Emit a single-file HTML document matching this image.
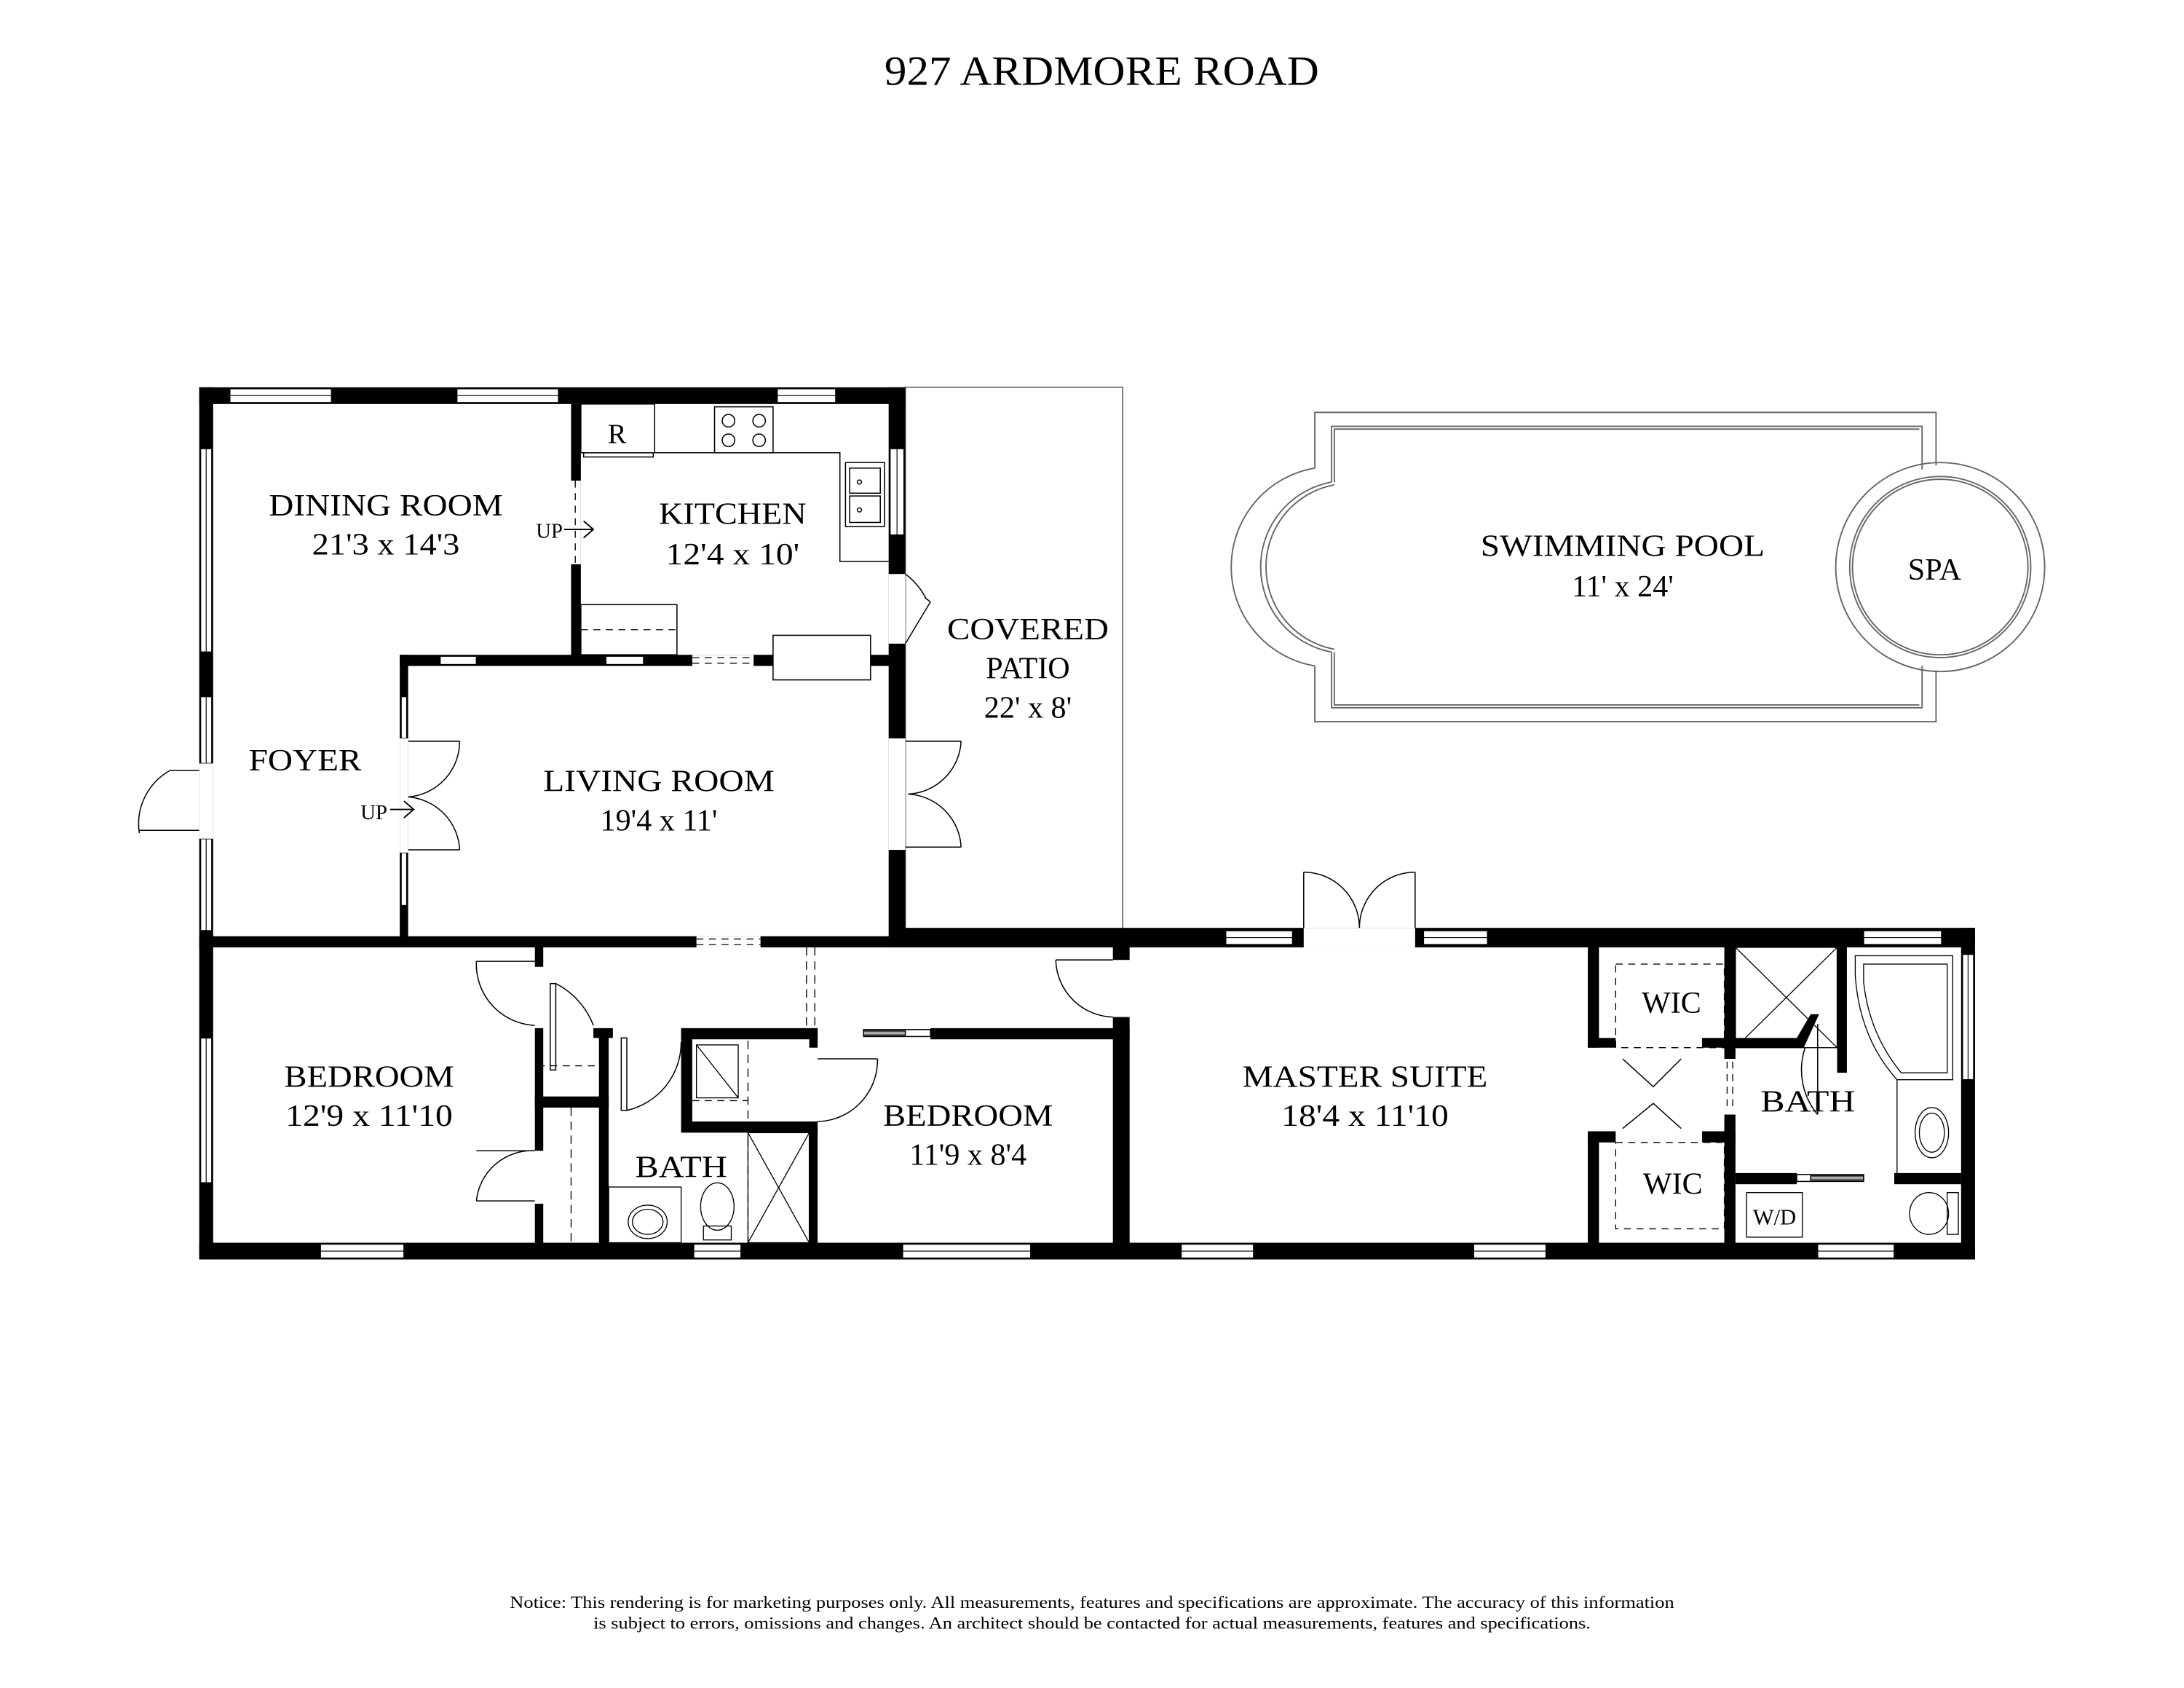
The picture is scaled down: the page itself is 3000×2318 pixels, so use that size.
<!DOCTYPE html>
<html><head><meta charset="utf-8"><style>
html,body{margin:0;padding:0;background:#fff;}
svg{display:block;}
text{font-family:"Liberation Serif",serif;fill:#000;}
</style></head><body>
<svg width="3000" height="2318" viewBox="0 0 1568 1211.6" xmlns="http://www.w3.org/2000/svg">
<rect x="0" y="0" width="1568" height="1212" fill="#fff"/>
<text x="791" y="61" font-size="30" text-anchor="middle" textLength="312" lengthAdjust="spacingAndGlyphs">927 ARDMORE ROAD</text>

<rect x="650" y="278" width="156" height="390" fill="none" stroke="#777" stroke-width="1"/>

<g fill="#000">
<rect x="143" y="278" width="507" height="12"/>
<rect x="143" y="278" width="10" height="626"/>
<rect x="638" y="278" width="12" height="402"/>
<rect x="410" y="290" width="7" height="188"/>
<rect x="287" y="470" width="357" height="8"/>
<rect x="287" y="470" width="6" height="206"/>
<rect x="143" y="672" width="663" height="8"/>
<rect x="643" y="666" width="775" height="14"/>
<rect x="143" y="892" width="1275" height="12"/>
<rect x="1408" y="666" width="10" height="238"/>
<rect x="384" y="680" width="6" height="14"/>
<rect x="384" y="738" width="6" height="88"/>
<rect x="384" y="864" width="6" height="30"/>
<rect x="384" y="787" width="53" height="8"/>
<rect x="430" y="738" width="7" height="156"/>
<rect x="426" y="738" width="14" height="7"/>
<rect x="489" y="738" width="98" height="8"/>
<rect x="489" y="738" width="8" height="74"/>
<rect x="489" y="805" width="98" height="8"/>
<rect x="581" y="738" width="6" height="14"/>
<rect x="581" y="805" width="6" height="89"/>
<rect x="668" y="738" width="143" height="8"/>
<rect x="799" y="680" width="12" height="9"/>
<rect x="799" y="730" width="12" height="164"/>
<rect x="1140" y="680" width="8" height="72"/>
<rect x="1140" y="745" width="20" height="7"/>
<rect x="1140" y="812" width="8" height="82"/>
<rect x="1140" y="812" width="20" height="8"/>
<rect x="1238" y="680" width="8" height="80"/>
<rect x="1238" y="800" width="8" height="94"/>
<rect x="1222" y="745" width="24" height="7"/>
<rect x="1222" y="812" width="24" height="8"/>
<polygon points="1246,745 1290,745 1300,728 1306,728 1295,752 1246,752"/>
<rect x="1319" y="680" width="7" height="90"/>
<rect x="1246" y="842" width="44" height="8"/>
<rect x="1360" y="842" width="48" height="8"/>
</g>

<g fill="#fff" stroke="#000" stroke-width="0.8">
<rect x="165" y="279" width="73" height="10"/>
<rect x="328" y="279" width="73" height="10"/>
<rect x="558" y="279" width="42" height="10"/>
<rect x="144" y="322" width="8" height="146"/>
<rect x="144" y="500" width="8" height="48"/>
<rect x="144" y="602" width="8" height="66"/>
<rect x="144" y="745" width="8" height="104"/>
<rect x="639" y="322" width="10" height="62"/>
<rect x="316" y="471" width="26" height="6"/>
<rect x="435" y="471" width="27" height="6"/>
<rect x="288" y="500" width="4" height="30"/>
<rect x="288" y="612" width="4" height="38"/>
<rect x="230" y="893" width="60" height="10"/>
<rect x="498" y="893" width="34" height="10"/>
<rect x="648" y="893" width="92" height="10"/>
<rect x="848" y="893" width="52" height="10"/>
<rect x="1058" y="893" width="52" height="10"/>
<rect x="1305" y="893" width="55" height="10"/>
<rect x="880" y="668" width="48" height="10"/>
<rect x="1022" y="668" width="46" height="10"/>
<rect x="1338" y="668" width="56" height="10"/>
<rect x="1409" y="685" width="8" height="90"/>
</g>
<g stroke="#000" stroke-width="0.6" fill="none">
<line x1="165" y1="284" x2="238" y2="284"/><line x1="328" y1="284" x2="401" y2="284"/><line x1="558" y1="284" x2="600" y2="284"/>
<line x1="148" y1="322" x2="148" y2="468"/><line x1="148" y1="500" x2="148" y2="548"/><line x1="148" y1="602" x2="148" y2="668"/><line x1="148" y1="745" x2="148" y2="849"/>
<line x1="644" y1="322" x2="644" y2="384"/>
<line x1="230" y1="898" x2="290" y2="898"/><line x1="648" y1="898" x2="740" y2="898"/><line x1="848" y1="898" x2="900" y2="898"/><line x1="1058" y1="898" x2="1110" y2="898"/><line x1="1305" y1="898" x2="1360" y2="898"/><line x1="498" y1="898" x2="532" y2="898"/>
<line x1="880" y1="673" x2="928" y2="673"/><line x1="1022" y1="673" x2="1068" y2="673"/><line x1="1338" y1="673" x2="1394" y2="673"/><line x1="1413" y1="685" x2="1413" y2="775"/>
</g>

<g fill="#fff">
<rect x="143" y="548" width="10" height="54"/>
<rect x="410" y="345" width="7" height="60"/>
<rect x="497" y="470" width="44" height="8"/>
<rect x="638" y="412" width="12" height="50"/>
<rect x="638" y="530" width="12" height="80"/>
<rect x="287" y="530" width="6" height="82"/>
<rect x="500" y="672" width="46" height="8"/>
<rect x="936" y="666" width="80" height="14"/>
<rect x="620" y="738" width="48" height="8"/>
</g>
<g stroke="#000" stroke-width="0.7" fill="none">
<line x1="413" y1="345" x2="413" y2="405" stroke-dasharray="5,4"/>
<line x1="497" y1="472" x2="541" y2="472" stroke-dasharray="5,4"/><line x1="497" y1="476" x2="541" y2="476" stroke-dasharray="5,4"/>
<line x1="500" y1="674" x2="546" y2="674" stroke-dasharray="5,4"/><line x1="500" y1="678" x2="546" y2="678" stroke-dasharray="5,4"/>
<line x1="579" y1="680" x2="579" y2="736" stroke-dasharray="6,4"/><line x1="585" y1="680" x2="585" y2="736" stroke-dasharray="6,4"/>
<line x1="1240" y1="762" x2="1240" y2="798" stroke-dasharray="5,4"/><line x1="1244" y1="762" x2="1244" y2="798" stroke-dasharray="5,4"/>
<line x1="386" y1="765" x2="430" y2="765" stroke-dasharray="5,4"/>
<line x1="410" y1="795" x2="410" y2="892" stroke-dasharray="6,4"/>
<line x1="417" y1="452" x2="486" y2="452" stroke-dasharray="5,4"/>
<line x1="537" y1="747" x2="537" y2="892" stroke-dasharray="6,4"/>
<line x1="497" y1="790" x2="537" y2="790" stroke-dasharray="5,4"/>
<rect x="1160" y="692" width="78" height="60" stroke-dasharray="5,4"/>
<rect x="1160" y="820" width="78" height="62" stroke-dasharray="5,4"/>
</g>

<g stroke="#000" stroke-width="0.8" fill="none">
<rect x="417" y="290" width="53" height="35"/>
<polyline points="470,325 603,325 603,403 638,403"/>
<rect x="513" y="292" width="42" height="33"/>
<circle cx="523" cy="302" r="4.5"/><circle cx="545" cy="302" r="4.5"/><circle cx="523" cy="316" r="4.5"/><circle cx="545" cy="316" r="4.5"/>
<rect x="607" y="332" width="28" height="46"/>
<rect x="610" y="336" width="22" height="18"/><rect x="610" y="356" width="22" height="19"/>
<circle cx="617" cy="346" r="1.5"/><circle cx="617" cy="366" r="1.5"/>
<rect x="417" y="434" width="69" height="36"/>
<rect x="555" y="456" width="70" height="32" fill="#fff"/>
<rect x="419" y="325" width="50" height="3"/>
</g>
<text x="443" y="318" font-size="20" text-anchor="middle">R</text>

<g stroke="#000" stroke-width="0.8" fill="none">
<line x1="143" y1="553" x2="122" y2="553"/><path d="M122,553 A44,44 0 0 0 100,598"/><line x1="100" y1="596" x2="143" y2="596"/>
<line x1="650" y1="462" x2="668" y2="432"/><line x1="668" y1="432" x2="664" y2="429"/><path d="M650,412 A50,50 0 0 1 665,430"/>
<line x1="650" y1="532" x2="690" y2="532"/><path d="M690,532 A40,40 0 0 1 652,570"/>
<line x1="650" y1="608" x2="690" y2="608"/><path d="M690,608 A40,40 0 0 0 652,570"/>
<line x1="293" y1="532" x2="330" y2="532"/><path d="M330,532 A40,40 0 0 1 293,572"/>
<line x1="293" y1="610" x2="330" y2="610"/><path d="M330,610 A40,40 0 0 0 293,572"/>
<line x1="936" y1="626" x2="936" y2="666"/><path d="M936,626 A40,40 0 0 1 976,666"/>
<line x1="1016" y1="626" x2="1016" y2="666"/><path d="M1016,626 A40,40 0 0 0 976,666"/>
<line x1="384" y1="690" x2="342" y2="690"/><path d="M342,690 A44,44 0 0 0 384,736"/>
<line x1="384" y1="826" x2="342" y2="826"/><path d="M342,862 A40,40 0 0 1 384,826"/><line x1="342" y1="862" x2="384" y2="862"/>
<rect x="395" y="706" width="4" height="62"/><path d="M399,706 A56,56 0 0 1 426,736"/>
<rect x="446" y="745" width="4" height="52"/><path d="M450,797 A50,50 0 0 0 489,748"/>
<line x1="587" y1="760" x2="630" y2="760"/><path d="M630,760 A44,44 0 0 1 587,805"/>
<line x1="799" y1="689" x2="758" y2="689"/><path d="M758,689 A42,42 0 0 0 799,730"/>
<rect x="620" y="739" width="48" height="5" fill="#fff"/><rect x="620" y="740" width="30" height="3" fill="#aaa"/>
<polyline points="1165,760 1187,780 1207,760"/><polyline points="1165,810 1187,792 1207,810"/>
<rect x="1290" y="843" width="48" height="5" fill="#fff"/><rect x="1300" y="844" width="38" height="3" fill="#aaa"/>
<line x1="1305" y1="735" x2="1305" y2="800"/><path d="M1296,752 A50,50 0 0 0 1305,800"/>
</g>

<g stroke="#000" stroke-width="0.7" fill="none">
<rect x="500" y="750" width="30" height="38"/><line x1="500" y1="750" x2="530" y2="788"/>
<rect x="537" y="813" width="44" height="79"/><line x1="537" y1="813" x2="581" y2="892"/><line x1="581" y1="813" x2="537" y2="892"/>
<rect x="437" y="852" width="52" height="40"/>
<ellipse cx="465" cy="877" rx="14" ry="12"/><ellipse cx="465" cy="877" rx="11" ry="9"/>
<ellipse cx="515" cy="866" rx="12" ry="17"/><rect x="505" y="880" width="20" height="10"/>
<rect x="1246" y="680" width="73" height="72"/><line x1="1246" y1="680" x2="1319" y2="752"/><line x1="1319" y1="680" x2="1246" y2="752"/>
<path d="M1332,686 L1402,686 L1402,775 L1362,775 Q1335,745 1332,700 Z"/>
<path d="M1338,692 L1398,692 L1398,770 L1365,770 Q1342,742 1338,705 Z"/>
<line x1="1362" y1="775" x2="1362" y2="842"/>
<ellipse cx="1387" cy="813" rx="12" ry="18"/><ellipse cx="1387" cy="813" rx="9" ry="14"/>
<rect x="1254" y="856" width="40" height="32"/>
<ellipse cx="1385" cy="871" rx="14" ry="15"/><rect x="1398" y="856" width="8" height="30"/>
</g>
<g stroke="#000" stroke-width="1" fill="none">
<line x1="405" y1="380" x2="425" y2="380"/><polyline points="419,374 426,380 419,386"/>
<line x1="280" y1="581" x2="296" y2="581"/><polyline points="290,575 297,581 290,587"/>
</g>

<!-- pool -->
<g stroke="#666" stroke-width="1" fill="none">
<polyline points="944,336 944,296 1390,296 1390,334"/>
<polyline points="1390,481 1390,518 944,518 944,478"/>
<path d="M944,478 A72,72 0 0 1 944,336"/>
<polyline points="956,346 956,306 1380,306 1380,337"/>
<polyline points="1380,478 1380,508 956,508 956,468"/>
<path d="M956,468 A62,62 0 0 1 956,346"/>
<polyline points="958,346 958,308 1378,308"/>
<polyline points="1378,506 958,506 958,468"/>
<path d="M958,466 A60,60 0 0 1 958,348"/>
<circle cx="1393" cy="407" r="75"/><circle cx="1393" cy="407" r="65"/><circle cx="1393" cy="407" r="63"/>
</g>

<g font-size="22" text-anchor="middle">
<text x="277" y="370" textLength="168" lengthAdjust="spacingAndGlyphs">DINING ROOM</text>
<text x="277" y="398" textLength="106" lengthAdjust="spacingAndGlyphs">21'3 x 14'3</text>
<text x="526" y="376" textLength="106" lengthAdjust="spacingAndGlyphs">KITCHEN</text>
<text x="526" y="405" textLength="96" lengthAdjust="spacingAndGlyphs">12'4 x 10'</text>
<text x="738" y="459" textLength="116" lengthAdjust="spacingAndGlyphs">COVERED</text>
<text x="738" y="487">PATIO</text>
<text x="738" y="515">22' x 8'</text>
<text x="219" y="553" textLength="81" lengthAdjust="spacingAndGlyphs">FOYER</text>
<text x="473" y="568" textLength="166" lengthAdjust="spacingAndGlyphs">LIVING ROOM</text>
<text x="473" y="596">19'4 x 11'</text>
<text x="265" y="780" textLength="122" lengthAdjust="spacingAndGlyphs">BEDROOM</text>
<text x="265" y="808" textLength="120" lengthAdjust="spacingAndGlyphs">12'9 x 11'10</text>
<text x="489" y="845" textLength="66" lengthAdjust="spacingAndGlyphs">BATH</text>
<text x="695" y="808" textLength="122" lengthAdjust="spacingAndGlyphs">BEDROOM</text>
<text x="695" y="836">11'9 x 8'4</text>
<text x="980" y="780" textLength="176" lengthAdjust="spacingAndGlyphs">MASTER SUITE</text>
<text x="980" y="808" textLength="120" lengthAdjust="spacingAndGlyphs">18'4 x 11'10</text>
<text x="1200" y="727">WIC</text>
<text x="1201" y="857">WIC</text>
<text x="1298" y="798" textLength="68" lengthAdjust="spacingAndGlyphs">BATH</text>
<text x="1165" y="399" textLength="204" lengthAdjust="spacingAndGlyphs">SWIMMING POOL</text>
<text x="1165" y="428">11' x 24'</text>
<text x="1389" y="416">SPA</text>
</g>
<text x="404" y="386" font-size="15" text-anchor="end">UP</text>
<text x="278" y="588" font-size="15" text-anchor="end">UP</text>
<text x="1274" y="879" font-size="16" text-anchor="middle">W/D</text>
<text x="784" y="1154" font-size="12" text-anchor="middle" textLength="836" lengthAdjust="spacingAndGlyphs">Notice: This rendering is for marketing purposes only. All measurements, features and specifications are approximate. The accuracy of this information</text>
<text x="784" y="1169" font-size="12" text-anchor="middle" textLength="716" lengthAdjust="spacingAndGlyphs">is subject to errors, omissions and changes. An architect should be contacted for actual measurements, features and specifications.</text>
</svg>
</body></html>
